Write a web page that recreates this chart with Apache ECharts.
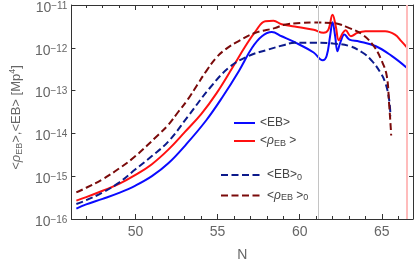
<!DOCTYPE html>
<html><head><meta charset="utf-8">
<script src="https://cdn.jsdelivr.net/npm/echarts@6/dist/echarts.min.js"></script>
<style>html,body{margin:0;padding:0;background:#fff}#c{width:418px;height:267px}</style>
</head><body><div id="c"></div>
<script>
// <EB> (solid blue)
const ebN = [46.4, 47, 48, 49, 50, 51, 52, 53.1, 54.3, 55.3, 56.3, 57.1, 57.7, 58.3, 58.9, 59.7, 60.85, 61.4, 61.64, 61.85, 62.0, 62.16, 62.3, 62.47, 62.73, 63.03, 63.62, 64.61, 65.6, 66.5];
const ebV = [1.74e-16, 2.19e-16, 2.95e-16, 4.07e-16, 6.03e-16, 1.0e-15, 2.0e-15, 5.62e-15, 2.0e-14, 7.08e-14, 2.88e-13, 1.0e-12, 1.86e-12, 2.34e-12, 1.86e-12, 1.35e-12, 7.76e-13, 5.13e-13, 6.46e-13, 1.86e-12, 3.98e-12, 1.86e-12, 8.32e-13, 1.32e-12, 2.04e-12, 1.55e-12, 1.41e-12, 1.10e-12, 6.46e-13, 3.47e-13];
// <rho_EB> (solid red)
const rhoN = [46.4, 47, 48, 49, 50, 51, 52, 53, 54, 54.92, 55.91, 56.7, 57.3, 57.9, 58.4, 58.9, 59.7, 60.85, 61.45, 61.74, 62.0, 62.2, 62.38, 62.63, 62.79, 63.12, 63.52, 64.0, 65.2, 65.8, 66.2, 66.55];
const rhoV = [2.69e-16, 3.24e-16, 4.57e-16, 6.61e-16, 1.07e-15, 1.91e-15, 4.17e-15, 1.07e-14, 2.82e-14, 8.51e-14, 3.47e-13, 1.10e-12, 2.40e-12, 4.17e-12, 4.27e-12, 3.55e-12, 3.16e-12, 2.63e-12, 2.24e-12, 2.63e-12, 5.89e-12, 3.16e-12, 1.51e-12, 2.24e-12, 2.57e-12, 1.86e-12, 2.24e-12, 2.45e-12, 2.45e-12, 2.04e-12, 1.41e-12, 1.0e-12];
// <EB>_0 (dashed navy)
const eb0N = [46.4, 47, 48, 49, 50, 51, 52, 53.2, 54.5, 55.7, 56.9, 58.1, 59.0, 59.7, 60.85, 62.04, 63.03, 63.82, 64.41, 64.9, 65.2, 65.44, 65.53];
const eb0V = [2.24e-16, 2.75e-16, 4.17e-16, 7.08e-16, 1.45e-15, 2.95e-15, 6.46e-15, 2.51e-14, 1.12e-13, 3.47e-13, 6.46e-13, 9.12e-13, 1.15e-12, 1.32e-12, 1.32e-12, 1.26e-12, 1.10e-12, 7.76e-13, 4.90e-13, 2.69e-13, 1.58e-13, 6.46e-14, 2.51e-14];
// <rho_EB>_0 (dashed maroon)
const rho0N = [46.4, 47, 48, 49, 50, 51.4, 52.0, 52.6, 53.2, 53.74, 54.3, 54.92, 55.5, 56.11, 57.3, 58.48, 59.07, 60.06, 60.85, 62.04, 63.03, 63.82, 64.51, 65.0, 65.3, 65.45, 65.56, 65.57];
const rho0V = [4.17e-16, 5.37e-16, 8.51e-16, 1.51e-15, 2.95e-15, 9.33e-15, 1.58e-14, 3.16e-14, 6.31e-14, 1.32e-13, 2.82e-13, 5.89e-13, 9.33e-13, 1.32e-12, 2.24e-12, 2.88e-12, 3.47e-12, 3.80e-12, 3.89e-12, 3.80e-12, 2.88e-12, 2.04e-12, 1.10e-12, 4.90e-13, 2.24e-13, 4.57e-14, 1.10e-14, 8.9e-15];

const xMajorTicks = [50, 55, 60, 65];
const xMinorTicks = [47, 48, 49, 51, 52, 53, 54, 56, 57, 58, 59, 61, 62, 63, 64, 66];
const grayLineN = 61.1;
const pinkLineN = 66.52;

const seriesNames = ['EB', 'rhoEB', 'EB0', 'rhoEB0'];
const legendLabels = {
  EB: '{t|<EB>}',
  rhoEB: '{t|<}{i|ρ}{sub|EB}{t| >}',
  EB0: '{t|<EB>}{sub|0}',
  rhoEB0: '{t|<}{i|ρ}{sub|EB}{t| >}{sub|0}'
};

const zip = (a, b) => a.map((x, i) => [x, b[i]]);
const textGray = '#666';
const frame = '#333';

const legendRich = {
  t: {fontSize: 12, lineHeight: 14, verticalAlign: 'middle', color: '#444', fontFamily: 'Liberation Sans'},
  i: {fontSize: 12, lineHeight: 14, verticalAlign: 'middle', color: '#444', fontStyle: 'italic', fontFamily: 'Liberation Sans'},
  sub: {fontSize: 9, lineHeight: 7, verticalAlign: 'bottom', color: '#444', fontFamily: 'Liberation Sans'}
};

function xAx(pos, vals, len, line, labels) {
  return {
    type: 'value', position: pos, min: 46.1, max: 66.9, gridIndex: 0,
    axisLine: {show: line, onZero: false, lineStyle: {color: frame, width: 1}},
    axisTick: {show: true, inside: true, length: len, customValues: vals, lineStyle: {color: frame, width: 1}},
    axisLabel: labels ? {show: true, customValues: xMajorTicks, color: textGray, fontSize: 14, margin: 6, fontFamily: 'Liberation Sans'} : {show: false},
    splitLine: {show: false}
  };
}

const chart = echarts.init(document.getElementById('c'), null, {renderer: 'canvas'});
const lineBase = {type: 'line', showSymbol: false, symbol: 'none', smooth: 0.4, animation: false, xAxisIndex: 0, yAxisIndex: 0};
const legendBase = {orient: 'vertical', itemHeight: 14, padding: 0, icon: 'inherit',
  itemStyle: {opacity: 0, borderWidth: 0},
  formatter: n => legendLabels[n], textStyle: {rich: legendRich}};

chart.setOption({
  animation: false,
  grid: {left: 61, top: 5, right: 5, bottom: 45, containLabel: false},
  xAxis: [
    Object.assign(xAx('bottom', xMajorTicks, 5, true, true), {name: 'N', nameLocation: 'middle', nameGap: 29, nameTextStyle: {color: textGray, fontSize: 14, fontFamily: 'Liberation Sans'}}),
    xAx('bottom', xMinorTicks, 3, false, false),
    xAx('top', xMajorTicks, 5, true, false),
    xAx('top', xMinorTicks, 3, false, false)
  ],
  yAxis: [
    {
      type: 'log', logBase: 10, min: 1e-16, max: 1e-11, position: 'left',
      axisLine: {show: true, lineStyle: {color: frame, width: 1}},
      axisTick: {show: true, inside: true, length: 4, lineStyle: {color: frame}},
      splitLine: {show: false},
      axisLabel: {
        color: textGray, margin: 4, padding: [6, 0, 0, 0],
        formatter: v => '{b|10}{s|−' + (-Math.round(Math.log10(v))) + '}',
        rich: {
          b: {fontSize: 14, lineHeight: 14, verticalAlign: 'middle', color: textGray, fontFamily: 'Liberation Sans'},
          s: {fontSize: 10, lineHeight: 1, verticalAlign: 'top', color: textGray, fontFamily: 'Liberation Sans'}
        }
      },
      name: '{t|<}{i|ρ}{sub|EB}{t|>,<EB> [Mp}{sup|4}{t|]}',
      nameLocation: 'middle', nameRotate: 90, nameGap: 42,
      nameTextStyle: {
        padding: [0, 11, 0, 0],
        rich: {
          t: {fontSize: 13, lineHeight: 16, verticalAlign: 'middle', color: textGray, fontFamily: 'Liberation Sans'},
          i: {fontSize: 13, lineHeight: 16, verticalAlign: 'middle', color: textGray, fontStyle: 'italic', fontFamily: 'Liberation Sans'},
          sub: {fontSize: 9, lineHeight: 8, verticalAlign: 'bottom', color: textGray, fontFamily: 'Liberation Sans'},
          sup: {fontSize: 9, lineHeight: 1, verticalAlign: 'top', color: textGray, fontFamily: 'Liberation Sans'}
        }
      }
    },
    {
      type: 'log', logBase: 10, min: 1e-16, max: 1e-11, position: 'right',
      axisLine: {show: true, lineStyle: {color: frame, width: 1}},
      axisTick: {show: true, inside: true, length: 4, lineStyle: {color: frame}},
      axisLabel: {show: false}, splitLine: {show: false}
    }
  ],
  legend: [
    Object.assign({}, legendBase, {data: [seriesNames[0], seriesNames[1]], left: 233, top: 117, itemWidth: 21, itemGap: 6}),
    Object.assign({}, legendBase, {data: [seriesNames[2], seriesNames[3]], left: 220, top: 169, itemWidth: 41, itemGap: 7.4})
  ],
  series: [
    Object.assign({}, lineBase, {
      name: seriesNames[0], data: zip(ebN, ebV), z: 3,
      lineStyle: {color: '#0a0aff', width: 2}, itemStyle: {color: '#0a0aff'},
      markLine: {
        silent: true, symbol: ['none', 'none'], label: {show: false}, animation: false,
        data: [
          {xAxis: grayLineN, lineStyle: {color: '#c4c4c4', width: 1, type: 'solid'}},
          {xAxis: pinkLineN, lineStyle: {color: '#ffbcbc', width: 2, type: 'solid'}}
        ]
      }
    }),
    Object.assign({}, lineBase, {
      name: seriesNames[1], data: zip(rhoN, rhoV), z: 3,
      lineStyle: {color: '#ff1010', width: 2}, itemStyle: {color: '#ff1010'}
    }),
    Object.assign({}, lineBase, {
      name: seriesNames[2], data: zip(eb0N, eb0V), z: 4,
      lineStyle: {color: '#0c1a8c', width: 2, type: [7, 3.5]}, itemStyle: {color: '#0c1a8c'}
    }),
    Object.assign({}, lineBase, {
      name: seriesNames[3], data: zip(rho0N, rho0V), z: 4,
      lineStyle: {color: '#7a0a0a', width: 2, type: [7, 3.5]}, itemStyle: {color: '#7a0a0a'}
    })
  ]
});
</script></body></html>
